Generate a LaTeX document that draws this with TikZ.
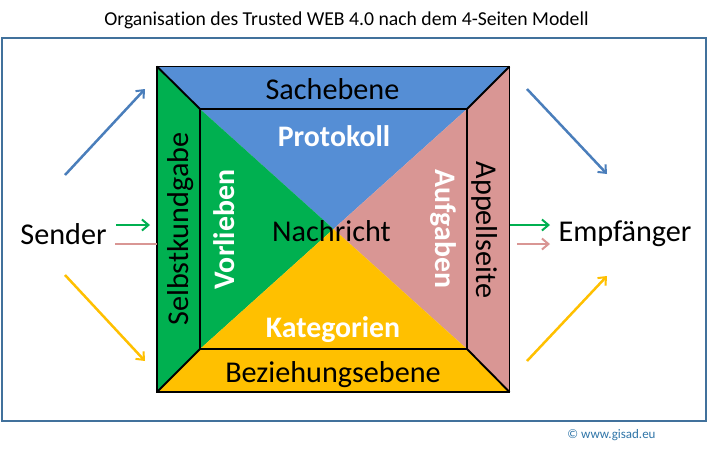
\documentclass[tikz,border=0pt]{standalone}
\usepackage{fontspec}
\setmainfont[Ligatures=NoCommon]{Carlito}
\usetikzlibrary{arrows.meta}
\definecolor{fblue}{HTML}{558ED5}
\definecolor{fgreen}{HTML}{00B050}
\definecolor{fpink}{HTML}{D99694}
\definecolor{fgold}{HTML}{FFC000}
\definecolor{framec}{HTML}{41719C}
\definecolor{ablue}{HTML}{4A7EBB}
\definecolor{linkc}{HTML}{2F75A8}
\tikzset{
  conn/.style={line width=2.5pt,-{Straight Barb[length=6.5pt,width=11pt,line width=2pt]}},
  txt/.style={font=\fontsize{30.2}{33}\selectfont,inner sep=0pt,text=black},
  wtxt/.style={font=\fontsize{29.8}{33}\selectfont\bfseries,inner sep=0pt,text=white},
  edge/.style={draw=black,line width=1.9pt,line join=miter},
}
\begin{document}
\begin{tikzpicture}[x=1pt,y=-1pt]
\useasboundingbox (0,0) rectangle (710,451);
\fill[white] (0,0) rectangle (710,451);
\draw[framec,line width=2pt] (1.5,37.5) rectangle (705.5,420.5);
% corners
\coordinate (ol) at (157,66.5); \coordinate (or) at (509.5,66.5);
\coordinate (ul) at (157,392); \coordinate (ur) at (509.5,392);
\coordinate (il) at (200,109); \coordinate (ir) at (467,109);
\coordinate (jl) at (200,349); \coordinate (jr) at (467,349);
\coordinate (mm) at (333.5,229);
% outer trapezia
\fill[fblue] (ol)--(or)--(ir)--(il)--cycle;
\fill[fgreen] (ol)--(il)--(jl)--(ul)--cycle;
\fill[fpink] (or)--(ur)--(jr)--(ir)--cycle;
\fill[fgold] (ul)--(jl)--(jr)--(ur)--cycle;
% inner triangles
\fill[fblue] (il)--(ir)--(mm)--cycle;
\fill[fgreen] (il)--(jl)--(mm)--cycle;
\fill[fpink] (ir)--(jr)--(mm)--cycle;
\fill[fgold] (jl)--(jr)--(mm)--cycle;
% lines
\draw[edge] (ol) rectangle (ur);
\draw[edge] (il) rectangle (jr);
\draw[edge] (ol)--(il) (or)--(ir) (ul)--(jl) (ur)--(jr);
% texts
\node[font=\fontsize{19.7}{22}\selectfont,text=black,inner sep=0pt] (title) at (346.5,20) {Organisation des Trusted WEB 4.0 nach dem 4-Seiten Modell};
\node[txt] (sach) at (332.5,89) {Sachebene};
\node[txt] (bez) at (333,375) {Beziehungsebene};
\node[txt,rotate=90] (selbst) at (181,229) {Selbstkundgabe};
\node[txt,rotate=-90] (appell) at (485,230) {Appellseite};
\node[wtxt] (prot) at (334,136) {Protokoll};
\node[wtxt] (kat) at (333,330) {Kategorien};
\node[wtxt,rotate=90] (vor) at (224,229.5) {Vorlieben};
\node[wtxt,rotate=-90] (auf) at (443,229) {Aufgaben};
\node[txt] (nach) at (331.5,231.5) {Nachricht};
\node[txt] (send) at (63.5,234) {Sender};
\node[txt] (emp) at (625,234) {Empfänger};
\node[font=\fontsize{13}{15}\selectfont,text=linkc,inner sep=0pt] (link) at (611.5,435.5) {© www.gisad.eu};
% arrows
\coordinate (a1) at (65,175); \coordinate (a2) at (145,89);
\coordinate (b1) at (527,89); \coordinate (b2) at (607,174);
\coordinate (c1) at (65,275); \coordinate (c2) at (145,361);
\coordinate (d1) at (527,361); \coordinate (d2) at (607,276);
\coordinate (e1) at (116,225); \coordinate (e2) at (150,225);
\coordinate (f1) at (115,244); \coordinate (f2) at (157,244);
\coordinate (g1) at (510,225); \coordinate (g2) at (550,225);
\coordinate (h1) at (517,244); \coordinate (h2) at (550,244);
\draw[conn,ablue] (a1)--(a2);
\draw[conn,ablue] (b1)--(b2);
\draw[conn,fgold] (c1)--(c2);
\draw[conn,fgold] (d1)--(d2);
\draw[conn,fgreen] (e1)--(e2);
\draw[fpink,line width=2.5pt] (f1)--(f2);
\draw[conn,fgreen] (g1)--(g2);
\draw[conn,fpink] (h1)--(h2);
\end{tikzpicture}
\end{document}
